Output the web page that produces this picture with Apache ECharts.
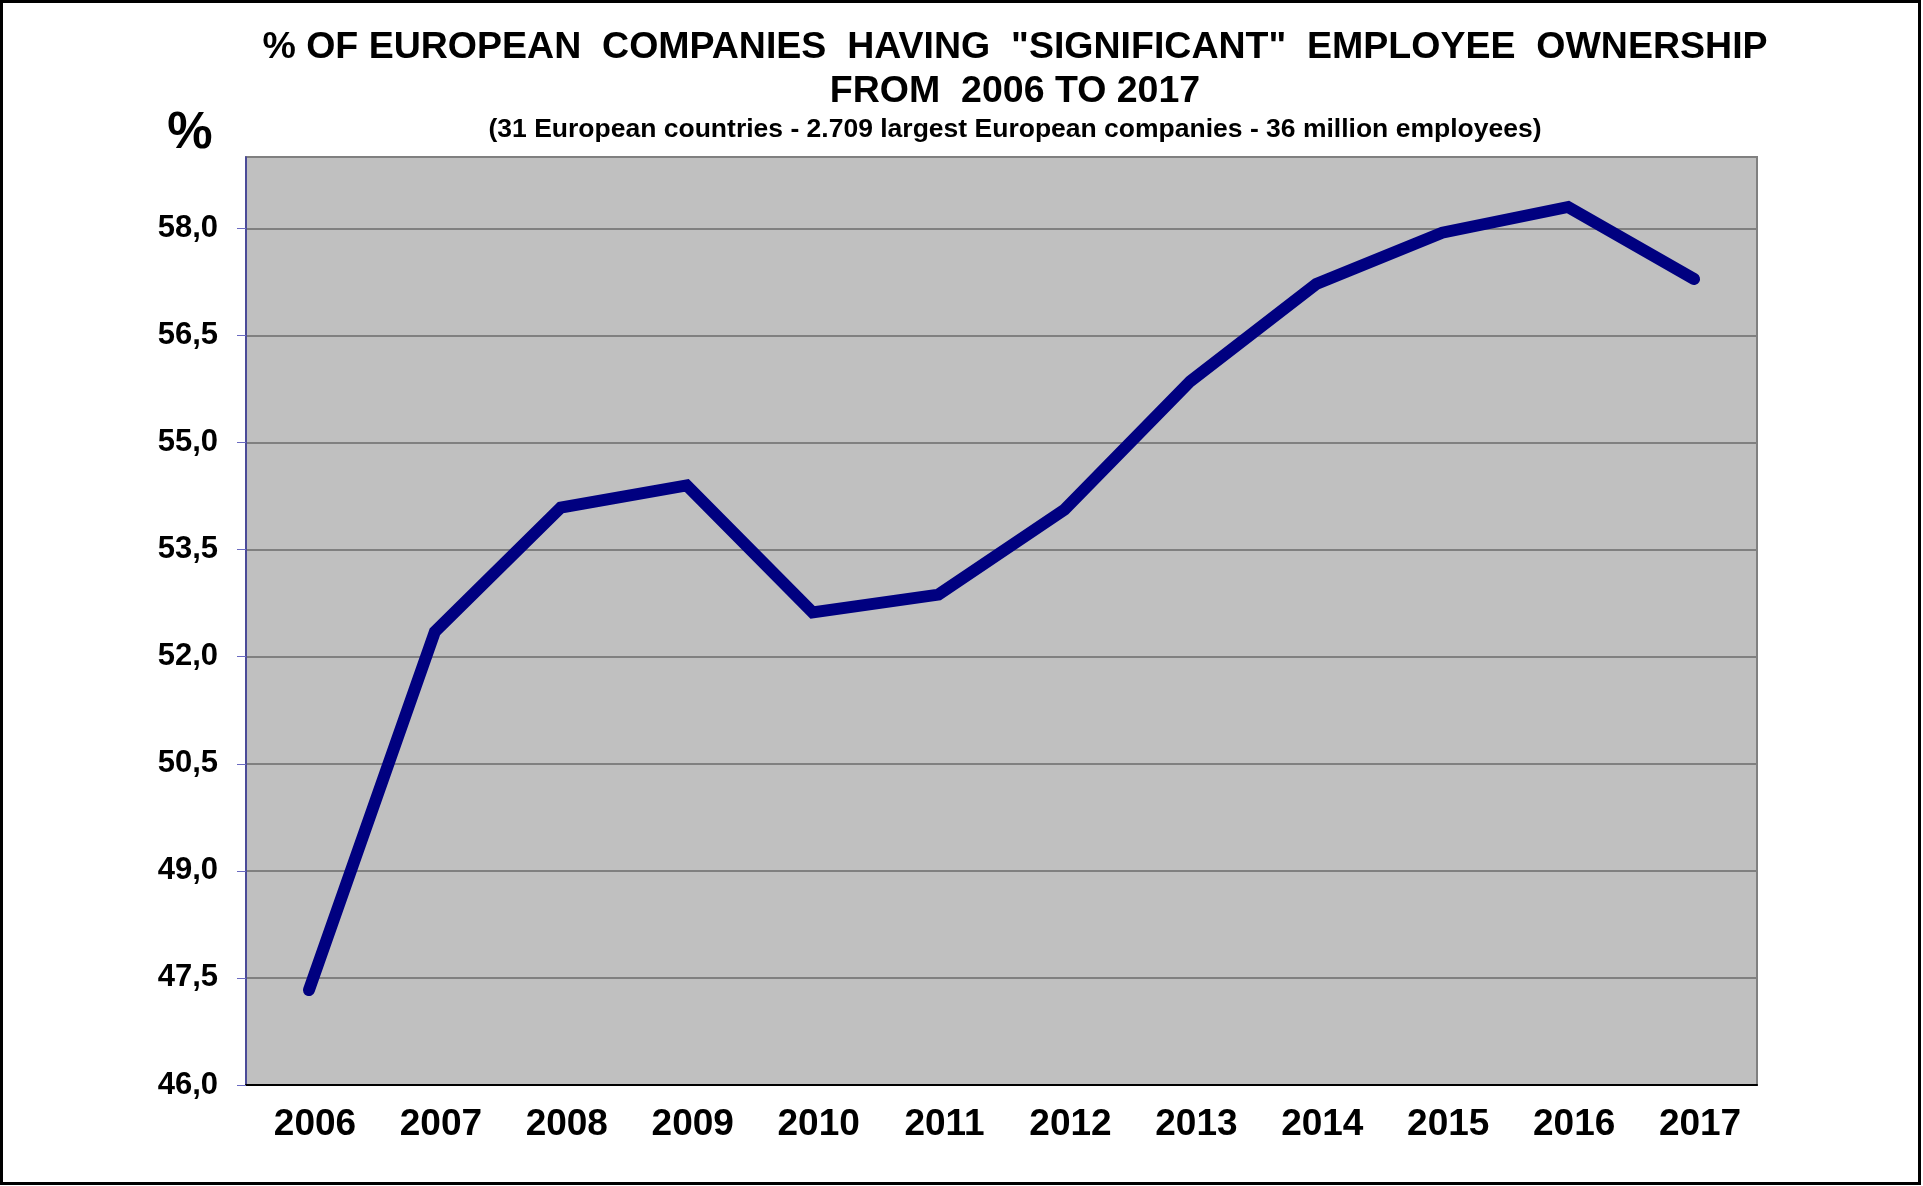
<!DOCTYPE html>
<html lang="en">
<head>
    <meta charset="UTF-8">
    <title>Employee ownership</title>
    <style>
        body{ margin:0; background:#fff; }
        .container{ width:1923px; height:1186px; }
    </style>
    <script src="https://cdn.jsdelivr.net/npm/echarts@6/dist/echarts.min.js"></script>
</head>
<body>
    <div class="container"></div>
    <script>
        // data
        const years = ['2006','2007','2008','2009','2010','2011','2012','2013','2014','2015','2016','2017'];
        const share = [47.33, 52.35, 54.09, 54.40, 52.62, 52.87, 54.06, 55.86, 57.22, 57.94, 58.30, 57.29];

        const titleLines = '% OF EUROPEAN  COMPANIES  HAVING  "SIGNIFICANT"  EMPLOYEE  OWNERSHIP\nFROM  2006 TO 2017';
        const subTitle = '(31 European countries - 2.709 largest European companies - 36 million employees)';

        const font = '"Liberation Sans", Arial, sans-serif';

        const chart = echarts.init(document.querySelector('.container'));
        chart.setOption({
            backgroundColor:'#fff',
            animation:false,
            title:[{
                text:titleLines,
                left:1010,
                top:21,
                textAlign:'center',
                textStyle:{ fontFamily:font, fontWeight:'bold', fontSize:37.5, lineHeight:44, color:'#000' }
            },{
                text:subTitle,
                left:1010,
                top:111,
                textAlign:'center',
                textStyle:{ fontFamily:font, fontWeight:'bold', fontSize:26.5, color:'#000' }
            }],
            graphic:[{
                type:'rect',
                shape:{ x:1.5, y:1.5, width:1918, height:1182 },
                style:{ fill:'none', stroke:'#000', lineWidth:3 },
                silent:true
            },{
                type:'text',
                x:190, y:134,
                style:{ text:'%', fontFamily:font, fontWeight:'bold', fontSize:51, fill:'#000', align:'center', verticalAlign:'middle' }
            }],
            grid:{
                left:246, top:157, right:166, bottom:101,
                show:true,
                backgroundColor:'#c0c0c0',
                borderColor:'#808080',
                borderWidth:2
            },
            xAxis:{
                type:'category',
                data:years,
                boundaryGap:true,
                axisLine:{ lineStyle:{ color:'#000', width:2 } },
                axisTick:{ length:8, lineStyle:{ color:'#666', width:1 } },
                axisLabel:{
                    margin:21,
                    padding:[0,0,0,12],
                    fontFamily:font, fontWeight:'bold', fontSize:37, color:'#000'
                }
            },
            yAxis:{
                type:'value',
                min:46, max:59, interval:1.5,
                axisLine:{ show:true, lineStyle:{ color:'#3a3aa0', width:1.5 } },
                axisTick:{ show:true, length:9, lineStyle:{ color:'#6a6ac0', width:1 } },
                splitLine:{ lineStyle:{ color:'#808080', width:2 } },
                axisLabel:{
                    margin:28,
                    showMaxLabel:false,
                    fontFamily:font, fontWeight:'bold', fontSize:31, color:'#000',
                    formatter:v => v.toFixed(1).replace('.', ',')
                }
            },
            series:[{
                type:'line',
                data:share,
                symbol:'none',
                lineStyle:{ color:'#000080', width:12, cap:'round', join:'miter' }
            }]
        });
    </script>
</body>
</html>
